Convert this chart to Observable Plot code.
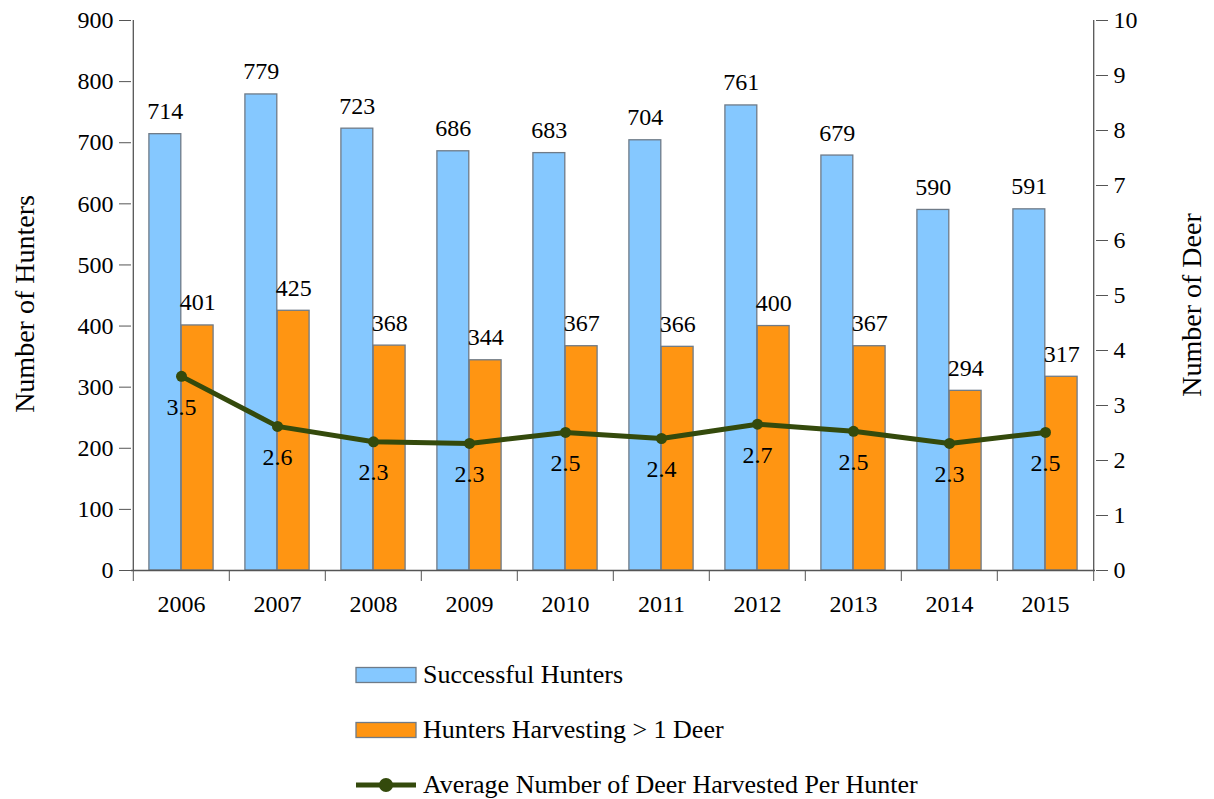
<!DOCTYPE html>
<html>
<head>
<meta charset="utf-8">
<script src="https://cdn.jsdelivr.net/npm/d3@7"></script>
<script src="https://cdn.jsdelivr.net/npm/@observablehq/plot@0.6"></script>
<style>
  html, body { margin: 0; padding: 0; background: #fff; }
  #wrap { position: relative; width: 1214px; height: 799px; font-family: "Liberation Serif", "Times New Roman", serif; overflow: hidden; }
  #chart svg, #chart svg text { font-family: "Liberation Serif", "Times New Roman", serif !important; }
  #legend { position: absolute; left: 355px; top: 647px; }
  .row { display: flex; align-items: center; height: 55px; font-size: 26px; color: #000; white-space: nowrap; }
  .row svg { margin-right: 6px; }
  .ytitle { position: absolute; font-size: 28px; color: #000; white-space: nowrap; transform: translate(-50%, -50%) rotate(-90deg); }
</style>
</head>
<body>
<div id="wrap">
  <div id="chart"></div>
  <div id="legend"></div>
</div>
<script>
const years = ["2006","2007","2008","2009","2010","2011","2012","2013","2014","2015"];
const successfulHunters = [714, 779, 723, 686, 683, 704, 761, 679, 590, 591];
const harvestingMoreThanOne = [401, 425, 368, 344, 367, 366, 400, 367, 294, 317];
const avgDeerPerHunter = [3.53, 2.62, 2.34, 2.31, 2.51, 2.40, 2.66, 2.53, 2.31, 2.51];
const hunterTicks = [0, 100, 200, 300, 400, 500, 600, 700, 800, 900];
const deerTicks = [0, 1, 2, 3, 4, 5, 6, 7, 8, 9, 10];
const seriesNames = ["Successful Hunters", "Hunters Harvesting > 1 Deer", "Average Number of Deer Harvested Per Hunter"];
const axisTitles = ["Number of Hunters", "Number of Deer"];

const blue = "#85C8FF", orange = "#FF9512", green = "#344A0C", edge = "#6F7B88";
const W = 1214, H = 640, mL = 131, mR = 119, mT = 20, mB = 70;
const step = (W - mL - mR) / years.length;
const pad = 15.9, barW = (step - 2 * pad) / 2;
const ratio = hunterTicks.at(-1) / deerTicks.at(-1);

const data = years.map((year, i) => ({
  year, successful: successfulHunters[i], harvest: harvestingMoreThanOne[i], avg: avgDeerPerHunter[i]
}));

const font = "Liberation Serif";

const chart = Plot.plot({
  width: W, height: H,
  marginLeft: mL, marginRight: mR, marginTop: mT, marginBottom: mB,
  style: { fontSize: "24px", color: "#000", background: "#fff" },
  x: { type: "band", domain: years, padding: 0, axis: null },
  y: { domain: [0, 900], axis: null },
  marks: [
    Plot.barY(data, { x: "year", y: "successful", fill: blue, stroke: edge, strokeWidth: 1.3, insetLeft: pad, insetRight: step - pad - barW }),
    Plot.barY(data, { x: "year", y: "harvest", fill: orange, stroke: edge, strokeWidth: 1.3, insetLeft: pad + barW, insetRight: pad }),
    Plot.text(data, { x: "year", y: "successful", text: d => String(d.successful), dx: -barW / 2, dy: -15, lineAnchor: "bottom", fontSize: 24, fontFamily: font, fill: "#000" }),
    Plot.text(data, { x: "year", y: "harvest", text: d => String(d.harvest), dx: barW / 2, dy: -15, lineAnchor: "bottom", fontSize: 24, fontFamily: font, fill: "#000" }),
    Plot.ruleY([0], { stroke: "#555", strokeWidth: 1.3 }),
    Plot.ruleX([years[0]], { dx: -step / 2, y1: 0, y2: 900, stroke: "#555", strokeWidth: 1.3 }),
    Plot.ruleX([years.at(-1)], { dx: step / 2, y1: 0, y2: 900, stroke: "#555", strokeWidth: 1.3 }),
    Plot.line(data, { x: "year", y: d => d.avg * ratio, stroke: green, strokeWidth: 5 }),
    Plot.dot(data, { x: "year", y: d => d.avg * ratio, r: 5.5, fill: green, stroke: "none" }),
    Plot.text(data, { x: "year", y: d => d.avg * ratio, text: d => d.avg.toFixed(1), dy: 31, fontSize: 24, fontFamily: font, fill: "#000" }),
    Plot.axisY({ ticks: hunterTicks, anchor: "left", tickSize: 12, tickPadding: 6, fontSize: 24, fontFamily: font, label: null, stroke: "#555" }),
    Plot.axisY({ ticks: deerTicks.map(d => d * ratio), anchor: "right", tickFormat: d => String(d / ratio), tickSize: 12, tickPadding: 6, fontSize: 24, fontFamily: font, label: null, stroke: "#555" }),
    Plot.axisX({ ticks: years, tickSize: 11, tickFormat: () => "", dx: -step / 2, label: null, stroke: "#555" }),
    Plot.axisX({ ticks: [years.at(-1)], tickSize: 11, tickFormat: () => "", dx: step / 2, label: null, stroke: "#555" }),
    Plot.axisX({ ticks: years, tickSize: 0, tickPadding: 24, fontSize: 24, fontFamily: font, label: null })
  ]
});
document.getElementById("chart").appendChild(chart);

// axis titles
const wrap = document.getElementById("wrap");
[[axisTitles[0], 25, 304], [axisTitles[1], 1192, 305]].forEach(([t, x, y]) => {
  const d = document.createElement("div");
  d.className = "ytitle";
  d.style.left = x + "px";
  d.style.top = y + "px";
  d.textContent = t;
  wrap.appendChild(d);
});

// legend
const legend = document.getElementById("legend");
const swatches = [
  `<svg width="62" height="20"><rect x="1" y="2.5" width="60" height="15" fill="${blue}" stroke="${edge}" stroke-width="1.3"/></svg>`,
  `<svg width="62" height="20"><rect x="1" y="2.5" width="60" height="15" fill="${orange}" stroke="${edge}" stroke-width="1.3"/></svg>`,
  `<svg width="62" height="20"><line x1="1" x2="61" y1="10" y2="10" stroke="${green}" stroke-width="5"/><circle cx="31" cy="10" r="7" fill="${green}"/></svg>`
];
seriesNames.forEach((name, i) => {
  const row = document.createElement("div");
  row.className = "row";
  row.innerHTML = swatches[i] + `<span>${name}</span>`;
  legend.appendChild(row);
});
</script>
</body>
</html>
